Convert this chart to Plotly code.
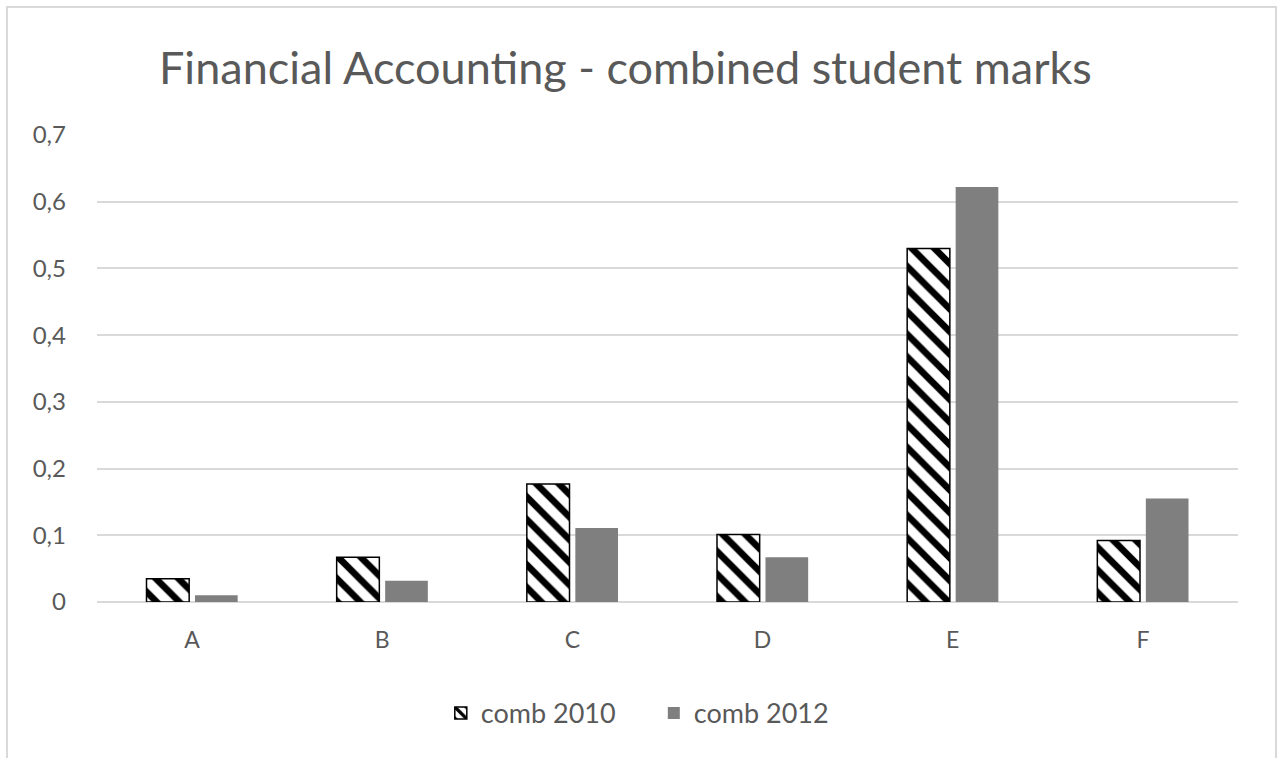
import plotly.graph_objects as go

# Grade categories and share of students in each
grades = ["A", "B", "C", "D", "E", "F"]
comb_2010 = [0.035, 0.067, 0.177, 0.101, 0.530, 0.092]
comb_2012 = [0.010, 0.032, 0.111, 0.067, 0.622, 0.155]

y_tick_vals = [0, 0.1, 0.2, 0.3, 0.4, 0.5, 0.6, 0.7]
y_tick_text = ["0", "0,1", "0,2", "0,3", "0,4", "0,5", "0,6", "0,7"]

FONT = "Lato"
TEXT_GREY = "#595959"
GRID = "#d9d9d9"

fig = go.Figure()

fig.add_trace(go.Bar(
    name="comb 2010",
    x=grades,
    y=comb_2010,
    marker=dict(
        color="white",
        line=dict(color="black", width=1.5),
        pattern=dict(shape="\\", fgcolor="black", bgcolor="white",
                     fgopacity=1, size=16, solidity=0.42, fillmode="overlay"),
    ),
))

fig.add_trace(go.Bar(
    name="comb 2012",
    x=grades,
    y=comb_2012,
    marker=dict(color="#7f7f7f", line=dict(width=0)),
))

# Light frame around the whole chart
fig.add_shape(type="rect", xref="paper", yref="paper",
              x0=-0.0789, x1=1.0333, y0=-0.40, y1=1.2743,
              line=dict(color=GRID, width=2), fillcolor="rgba(0,0,0,0)",
              layer="below")

fig.update_layout(
    width=1279,
    height=758,
    margin=dict(l=97, r=41, t=135, b=156),
    paper_bgcolor="white",
    plot_bgcolor="white",
    barmode="group",
    bargap=0.49,
    bargroupgap=0.12,
    title=dict(
        text="Financial Accounting - combined student marks",
        x=0.489, xanchor="center", xref="container",
        y=0.91, yanchor="middle", yref="container",
        font=dict(family=FONT, size=45, color=TEXT_GREY),
    ),
    font=dict(family=FONT, color=TEXT_GREY),
    xaxis=dict(
        showgrid=False,
        showline=False,
        ticks="",
        ticklabelstandoff=22,
        tickfont=dict(size=23, color=TEXT_GREY),
        range=[-0.5, 5.5],
    ),
    yaxis=dict(
        range=[0, 0.7],
        tickvals=y_tick_vals,
        ticktext=y_tick_text,
        showgrid=True,
        gridcolor=GRID,
        gridwidth=1.5,
        zeroline=True,
        zerolinecolor=GRID,
        zerolinewidth=1.5,
        showline=False,
        ticks="",
        ticklabelstandoff=30,
        tickfont=dict(size=24, color=TEXT_GREY),
    ),
    legend=dict(
        orientation="h",
        x=0.488, xanchor="center",
        y=-0.2385, yanchor="middle",
        font=dict(size=27, color=TEXT_GREY),
        itemwidth=30,
        entrywidth=168,
        entrywidthmode="pixels",
        bgcolor="rgba(0,0,0,0)",
    ),
)

fig.write_html("out.html")
